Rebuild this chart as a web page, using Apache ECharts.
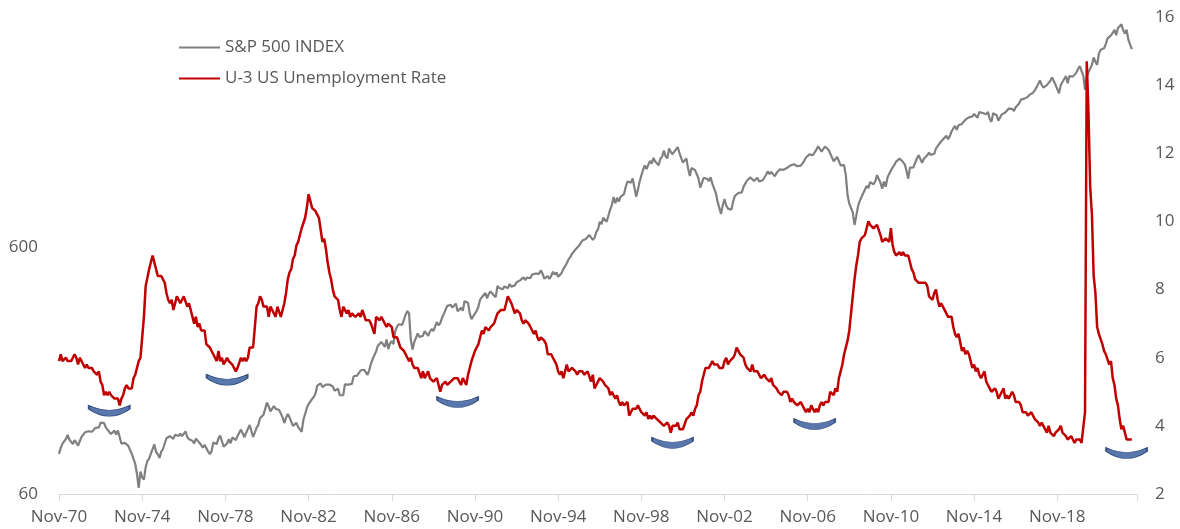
<!DOCTYPE html>
<html>
<head>
<meta charset="utf-8">
<script src="https://cdn.jsdelivr.net/npm/echarts@6/dist/echarts.min.js"></script>
<style>
  html, body { margin: 0; padding: 0; background: #ffffff; }
  #chart { width: 1180px; height: 529px; }
</style>
</head>
<body>
<div id="chart"></div>
<script>
// ---- Data (monthly, Nov-1970 .. Jun-2022) ----
const START_YEAR = 1970;
const START_MONTH = 10; // November (0-based)
const AXIS_MONTHS = 623; // axis runs Nov-70 .. Sep-22
const MONTH_NAMES = ['Jan','Feb','Mar','Apr','May','Jun','Jul','Aug','Sep','Oct','Nov','Dec'];

const unemployment = [
  5.9, 6.1,
  5.9, 5.9, 6.0, 5.9, 5.9, 5.9, 6.0, 6.1, 6.0, 5.8, 6.0, 6.0,
  5.8, 5.7, 5.8, 5.7, 5.7, 5.7, 5.6, 5.6, 5.5, 5.6, 5.3, 5.2,
  4.9, 5.0, 4.9, 5.0, 4.9, 4.9, 4.8, 4.8, 4.8, 4.6, 4.8, 4.9,
  5.1, 5.2, 5.1, 5.1, 5.1, 5.4, 5.5, 5.5, 5.9, 6.0, 6.6, 7.2,
  8.1, 8.1, 8.6, 8.8, 9.0, 8.8, 8.6, 8.4, 8.4, 8.4, 8.3, 8.2,
  7.9, 7.7, 7.6, 7.7, 7.4, 7.6, 7.8, 7.8, 7.6, 7.7, 7.8, 7.8,
  7.5, 7.6, 7.4, 7.2, 7.0, 7.2, 6.9, 7.0, 6.8, 6.8, 6.8, 6.4,
  6.4, 6.3, 6.3, 6.1, 6.0, 5.9, 6.2, 5.9, 6.0, 5.8, 5.9, 6.0,
  5.9, 5.9, 5.8, 5.8, 5.6, 5.7, 5.7, 6.0, 5.9, 6.0, 5.9, 6.0,
  6.3, 6.3, 6.3, 6.9, 7.5, 7.6, 7.8, 7.7, 7.5, 7.5, 7.5, 7.2,
  7.5, 7.4, 7.4, 7.2, 7.5, 7.5, 7.2, 7.4, 7.6, 7.9, 8.3, 8.5,
  8.6, 8.9, 9.0, 9.3, 9.4, 9.6, 9.8, 9.8, 10.1, 10.4, 10.8, 10.8,
  10.4, 10.4, 10.3, 10.2, 10.1, 10.1, 9.4, 9.5, 9.2, 8.8, 8.5, 8.3,
  8.0, 7.8, 7.8, 7.7, 7.4, 7.2, 7.5, 7.5, 7.3, 7.4, 7.2, 7.3,
  7.3, 7.2, 7.2, 7.3, 7.2, 7.4, 7.4, 7.1, 7.1, 7.1, 7.0, 7.0,
  6.7, 7.2, 7.2, 7.1, 7.2, 7.2, 7.0, 6.9, 7.0, 7.0, 6.9, 6.6,
  6.6, 6.6, 6.6, 6.3, 6.3, 6.2, 6.1, 6.0, 5.9, 6.0, 5.8, 5.7,
  5.7, 5.7, 5.7, 5.4, 5.6, 5.4, 5.4, 5.6, 5.4, 5.4, 5.3, 5.3,
  5.4, 5.2, 5.0, 5.2, 5.2, 5.3, 5.2, 5.2, 5.3, 5.3, 5.4, 5.4,
  5.4, 5.3, 5.2, 5.4, 5.4, 5.2, 5.5, 5.7, 5.9, 5.9, 6.2, 6.3,
  6.4, 6.6, 6.8, 6.7, 6.9, 6.9, 6.8, 6.9, 6.9, 7.0, 7.0, 7.3,
  7.3, 7.4, 7.4, 7.4, 7.6, 7.8, 7.7, 7.6, 7.6, 7.3, 7.4, 7.4,
  7.3, 7.1, 7.0, 7.1, 7.1, 7.0, 6.9, 6.8, 6.7, 6.8, 6.6, 6.5,
  6.6, 6.6, 6.5, 6.4, 6.1, 6.1, 6.1, 6.0, 5.9, 5.8, 5.6, 5.5,
  5.6, 5.4, 5.4, 5.8, 5.6, 5.6, 5.7, 5.7, 5.6, 5.5, 5.6, 5.6,
  5.6, 5.5, 5.5, 5.6, 5.6, 5.3, 5.5, 5.1, 5.2, 5.2, 5.4, 5.4,
  5.3, 5.2, 5.2, 5.1, 4.9, 5.0, 4.9, 4.8, 4.9, 4.7, 4.6, 4.7,
  4.6, 4.6, 4.7, 4.3, 4.4, 4.5, 4.5, 4.5, 4.6, 4.5, 4.4, 4.4,
  4.3, 4.4, 4.2, 4.3, 4.2, 4.3, 4.3, 4.2, 4.2, 4.1, 4.1, 4.0,
  4.0, 4.1, 4.0, 3.8, 4.0, 4.0, 4.0, 4.1, 3.9, 3.9, 3.9, 3.9,
  4.2, 4.2, 4.3, 4.4, 4.3, 4.5, 4.6, 4.9, 5.0, 5.3, 5.5, 5.7,
  5.7, 5.7, 5.7, 5.9, 5.8, 5.8, 5.8, 5.7, 5.7, 5.7, 5.9, 6.0,
  5.8, 5.9, 5.9, 6.0, 6.1, 6.3, 6.2, 6.1, 6.1, 6.0, 5.8, 5.7,
  5.7, 5.6, 5.8, 5.6, 5.6, 5.6, 5.5, 5.4, 5.4, 5.5, 5.4, 5.4,
  5.3, 5.4, 5.2, 5.2, 5.1, 5.0, 5.0, 4.9, 5.0, 5.0, 5.0, 4.9,
  4.7, 4.8, 4.7, 4.7, 4.6, 4.6, 4.7, 4.7, 4.5, 4.4, 4.5, 4.4,
  4.6, 4.5, 4.4, 4.5, 4.4, 4.6, 4.7, 4.6, 4.7, 4.7, 4.7, 5.0,
  5.0, 4.9, 5.1, 5.0, 5.4, 5.6, 5.8, 6.1, 6.1, 6.5, 6.8, 7.3,
  7.8, 8.3, 8.7, 9.0, 9.4, 9.5, 9.5, 9.6, 9.8, 10.0, 9.9, 9.9,
  9.8, 9.8, 9.9, 9.9, 9.6, 9.4, 9.4, 9.5, 9.5, 9.4, 9.8, 9.3,
  9.1, 9.0, 9.0, 9.1, 9.0, 9.1, 9.0, 9.0, 9.0, 8.8, 8.6, 8.5,
  8.3, 8.3, 8.2, 8.2, 8.2, 8.2, 8.2, 8.1, 7.8, 7.8, 7.7, 7.9,
  8.0, 7.7, 7.5, 7.6, 7.5, 7.5, 7.3, 7.2, 7.2, 7.2, 6.9, 6.7,
  6.6, 6.7, 6.7, 6.2, 6.3, 6.1, 6.2, 6.1, 5.9, 5.7, 5.8, 5.6,
  5.7, 5.5, 5.4, 5.4, 5.6, 5.3, 5.2, 5.1, 5.0, 5.0, 5.1, 5.0,
  4.8, 4.9, 5.0, 5.1, 4.8, 4.9, 4.8, 4.9, 5.0, 4.9, 4.7, 4.7,
  4.7, 4.6, 4.4, 4.4, 4.4, 4.3, 4.3, 4.4, 4.3, 4.2, 4.2, 4.1,
  4.0, 4.1, 4.0, 4.0, 3.8, 4.0, 3.8, 3.8, 3.7, 3.8, 3.8, 3.9,
  4.0, 3.8, 3.8, 3.7, 3.6, 3.6, 3.7, 3.6, 3.5, 3.6, 3.6, 3.6,
  3.5, 3.5, 4.4, 14.7, 13.2, 11.0, 10.2, 8.4, 7.9, 6.9, 6.7, 6.7,
  6.4, 6.2, 6.1, 6.1, 5.8, 5.9, 5.4, 5.2, 4.8, 4.6, 4.2, 3.9,
  4.0, 3.8, 3.6, 3.6, 3.6, 3.6
];

const sp500 = [
  87.2, 92.15,
  95.88, 96.75, 100.31, 103.95, 99.63, 98.70, 95.58, 99.03, 98.34, 94.23, 93.99, 102.09,
  103.94, 106.57, 107.20, 107.67, 109.53, 107.14, 107.39, 111.09, 110.55, 111.58, 116.67, 118.05,
  116.03, 111.68, 111.52, 106.97, 104.95, 104.26, 108.22, 104.25, 108.43, 108.29, 95.96, 97.55,
  96.57, 96.22, 93.98, 90.31, 87.28, 86.00, 79.31, 72.15, 63.54, 73.90, 69.97, 68.56,
  76.98, 81.59, 83.36, 87.30, 91.15, 95.19, 88.75, 86.88, 83.87, 89.04, 91.24, 90.19,
  100.86, 99.71, 102.77, 101.64, 100.18, 104.28, 103.44, 102.91, 105.24, 102.90, 102.10, 107.46,
  102.03, 99.82, 98.42, 98.44, 96.12, 100.48, 98.85, 96.77, 96.53, 92.34, 94.83, 95.10,
  89.25, 87.04, 89.21, 96.83, 97.24, 95.53, 100.68, 103.29, 102.54, 93.15, 94.70, 96.11,
  99.93, 96.28, 101.59, 101.76, 99.08, 102.91, 103.81, 109.32, 109.32, 101.82, 106.16, 107.94,
  114.16, 113.66, 102.09, 106.29, 111.24, 114.24, 121.67, 122.38, 125.46, 127.47, 140.52, 135.76,
  129.55, 131.27, 136.00, 132.81, 132.59, 131.21, 130.92, 122.79, 116.18, 121.89, 126.35, 122.55,
  120.40, 113.11, 111.96, 116.44, 111.88, 109.61, 107.09, 119.51, 120.42, 133.71, 138.54, 140.64,
  145.30, 148.06, 152.96, 164.42, 162.39, 168.11, 162.56, 164.40, 166.07, 163.55, 166.40, 164.93,
  163.41, 157.06, 159.18, 160.05, 150.55, 153.18, 150.66, 166.68, 166.10, 166.09, 163.58, 167.24,
  179.63, 181.18, 180.66, 179.83, 189.55, 191.85, 190.92, 188.63, 182.08, 189.82, 202.17, 211.28,
  211.78, 226.92, 238.90, 235.52, 247.35, 250.84, 236.12, 252.93, 231.32, 243.98, 249.22, 242.17,
  274.08, 284.20, 291.70, 288.36, 290.10, 304.00, 318.66, 329.80, 321.83, 251.79, 230.30, 247.08,
  257.07, 267.82, 258.89, 261.33, 262.16, 273.50, 272.02, 261.52, 271.91, 278.97, 273.70, 277.72,
  297.47, 288.86, 294.87, 309.64, 320.52, 317.98, 346.08, 351.45, 349.15, 340.36, 345.99, 353.40,
  329.08, 331.89, 339.94, 330.80, 361.23, 358.02, 356.15, 322.56, 306.05, 304.00, 322.22, 330.22,
  343.93, 367.07, 375.22, 375.35, 389.83, 371.16, 387.81, 395.43, 387.86, 392.46, 375.22, 417.09,
  408.79, 412.70, 403.69, 414.95, 415.35, 408.14, 424.21, 414.03, 417.80, 418.68, 431.35, 435.71,
  438.78, 443.38, 451.67, 440.19, 450.19, 450.53, 448.13, 463.56, 458.93, 467.83, 461.79, 466.45,
  481.61, 467.14, 445.77, 450.91, 456.50, 444.27, 458.26, 475.49, 462.69, 472.35, 453.69, 459.27,
  470.42, 487.39, 500.71, 514.71, 533.40, 544.75, 562.06, 561.88, 584.41, 581.50, 605.37, 615.93,
  636.02, 640.43, 645.50, 654.17, 669.12, 670.63, 639.95, 651.99, 687.31, 705.27, 757.02, 740.74,
  786.16, 790.82, 757.12, 801.34, 848.28, 885.14, 954.29, 899.47, 947.28, 914.62, 955.40, 970.43,
  980.28, 1049.34, 1101.75, 1111.75, 1090.82, 1133.84, 1120.67, 957.28, 1017.01, 1098.67, 1163.63, 1229.23,
  1279.64, 1238.33, 1286.37, 1335.18, 1301.84, 1372.71, 1328.72, 1320.41, 1282.71, 1362.93, 1388.91, 1469.25,
  1394.46, 1366.42, 1498.58, 1452.43, 1420.60, 1454.60, 1430.83, 1517.68, 1436.51, 1429.40, 1314.95, 1320.28,
  1366.01, 1239.94, 1160.33, 1249.46, 1255.82, 1224.42, 1211.23, 1133.58, 1040.94, 1059.78, 1139.45, 1148.08,
  1130.20, 1106.73, 1147.39, 1076.92, 1067.14, 989.82, 911.62, 916.07, 815.28, 885.76, 936.31, 879.82,
  855.70, 841.15, 848.18, 916.92, 963.59, 974.50, 990.31, 1008.01, 995.97, 1050.71, 1058.20, 1111.92,
  1131.13, 1144.94, 1126.21, 1107.30, 1120.68, 1140.84, 1101.72, 1104.24, 1114.58, 1130.20, 1173.82, 1211.92,
  1181.27, 1203.60, 1180.59, 1156.85, 1191.50, 1191.33, 1234.18, 1220.33, 1228.81, 1207.01, 1249.48, 1248.29,
  1280.08, 1280.66, 1294.83, 1310.61, 1270.09, 1270.20, 1276.66, 1303.82, 1335.85, 1377.94, 1400.63, 1418.30,
  1438.24, 1406.82, 1420.86, 1482.37, 1530.62, 1503.35, 1455.27, 1473.99, 1526.75, 1549.38, 1481.14, 1468.36,
  1378.55, 1330.63, 1322.70, 1385.59, 1400.38, 1280.00, 1267.38, 1282.83, 1166.36, 968.75, 896.24, 903.25,
  825.88, 735.09, 797.87, 872.81, 919.14, 919.32, 987.48, 1020.62, 1057.08, 1036.19, 1095.63, 1115.10,
  1073.87, 1104.49, 1169.43, 1186.69, 1089.41, 1030.71, 1101.60, 1049.33, 1141.20, 1183.26, 1180.55, 1257.64,
  1286.12, 1327.22, 1325.83, 1363.61, 1345.20, 1320.64, 1292.28, 1218.89, 1131.42, 1253.30, 1246.96, 1257.60,
  1312.41, 1365.68, 1408.47, 1397.91, 1310.33, 1362.16, 1379.32, 1406.58, 1440.67, 1412.16, 1416.18, 1426.19,
  1498.11, 1514.68, 1569.19, 1597.57, 1630.74, 1606.28, 1685.73, 1632.97, 1681.55, 1756.54, 1805.81, 1848.36,
  1782.59, 1859.45, 1872.34, 1883.95, 1923.57, 1960.23, 1930.67, 2003.37, 1972.29, 2018.05, 2067.56, 2058.90,
  1994.99, 2104.50, 2067.89, 2085.51, 2107.39, 2063.11, 2103.84, 1972.18, 1920.03, 2079.36, 2080.41, 2043.94,
  1940.24, 1932.23, 2059.74, 2065.30, 2096.95, 2098.86, 2173.60, 2170.95, 2168.27, 2126.15, 2198.81, 2238.83,
  2278.87, 2363.64, 2362.72, 2384.20, 2411.80, 2423.41, 2470.30, 2471.65, 2519.36, 2575.26, 2647.58, 2673.61,
  2823.81, 2713.83, 2640.87, 2648.05, 2705.27, 2718.37, 2816.29, 2901.52, 2913.98, 2711.74, 2760.17, 2506.85,
  2704.10, 2784.49, 2834.40, 2945.83, 2752.06, 2941.76, 2980.38, 2926.46, 2976.74, 3037.56, 3140.98, 3230.78,
  3225.52, 2954.22, 2584.59, 2912.43, 3044.31, 3100.29, 3271.12, 3500.31, 3363.00, 3269.96, 3621.63, 3756.07,
  3714.24, 3811.15, 3972.89, 4181.17, 4204.11, 4297.50, 4395.26, 4522.68, 4307.54, 4605.38, 4567.00, 4766.18,
  4515.55, 4373.94, 4530.41, 4131.93, 4132.15, 3785.38
];

// Blue "trough" markers (month label, unemployment-axis value)
const troughs = [
  ['Apr-73', 4.44],
  ['Dec-78', 5.35],
  ['Jan-90', 4.70],
  ['May-00', 3.50],
  ['Mar-07', 4.05],
  ['Mar-22', 3.20]
];

const leftTicks = [60, 600];          // labels on the left (log) axis
const SP_BASE = 60;                    // left axis starts at 60
const LEFT_MAX = 5100;

// ---- Build categories ----
const categories = [];
for (let i = 0; i < AXIS_MONTHS; i++) {
  const m = (START_MONTH + i) % 12;
  const y = START_YEAR + Math.floor((START_MONTH + i) / 12);
  categories.push(MONTH_NAMES[m] + '-' + String(y % 100).padStart(2, '0'));
}

const FONT = 'Open Sans';
const TXT = '#595959';

const chart = echarts.init(document.getElementById('chart'));
chart.setOption({
  animation: false,
  backgroundColor: '#ffffff',
  textStyle: { fontFamily: FONT },
  grid: { left: 59, right: 43, top: 17, bottom: 35, containLabel: false },
  legend: {
    data: ['S&P 500 INDEX', 'U-3 US Unemployment Rate'],
    orient: 'vertical',
    left: 173,
    top: 34,
    itemWidth: 41,
    itemHeight: 14,
    itemGap: 14,
    itemStyle: { opacity: 0 },
    textStyle: { fontFamily: FONT, fontSize: 17, color: TXT }
  },
  xAxis: {
    type: 'category',
    data: categories,
    boundaryGap: false,
    axisLine: { show: true, lineStyle: { color: '#D9D9D9', width: 1 } },
    axisTick: {
      show: true,
      length: 7,
      interval: (i) => i % 48 === 0 || i === AXIS_MONTHS - 1,
      lineStyle: { color: '#D9D9D9' }
    },
    axisLabel: {
      interval: (i) => i % 48 === 0,
      color: TXT,
      fontFamily: FONT,
      fontSize: 17,
      margin: 15
    },
    splitLine: { show: false }
  },
  yAxis: [
    {
      type: 'log',
      logBase: 10,
      min: 1,
      max: LEFT_MAX / SP_BASE,
      position: 'left',
      axisLine: { show: false },
      axisTick: { show: false },
      splitLine: { show: false },
      axisLabel: {
        color: TXT,
        fontFamily: FONT,
        fontSize: 17,
        margin: 21,
        showMaxLabel: false,
        formatter: (v) => {
          const real = Math.round(v * SP_BASE);
          return leftTicks.some(t => Math.abs(t - real) < 0.5) ? String(real) : '';
        }
      }
    },
    {
      type: 'value',
      min: 2,
      max: 16,
      interval: 2,
      position: 'right',
      axisLine: { show: false },
      axisTick: { show: false },
      splitLine: { show: false },
      axisLabel: { color: TXT, fontFamily: FONT, fontSize: 17, margin: 18 }
    }
  ],
  series: [
    {
      name: 'S&P 500 INDEX',
      type: 'line',
      yAxisIndex: 0,
      data: sp500.map(v => v / SP_BASE),
      symbol: 'none',
      color: '#808080',
      lineStyle: { color: '#808080', width: 2.2 },
      z: 2
    },
    {
      name: 'U-3 US Unemployment Rate',
      type: 'line',
      yAxisIndex: 1,
      data: unemployment,
      symbol: 'none',
      color: '#C00000',
      lineStyle: { color: '#C00000', width: 2.5 },
      z: 3
    },
    {
      name: 'troughs',
      type: 'scatter',
      yAxisIndex: 1,
      data: troughs,
      symbol: 'path://M0,0 Q20.5,10 41,0 L41,4 Q20.5,19 0,4 Z',
      symbolSize: [41, 11],
      itemStyle: { color: '#2F5597', borderColor: '#1F3C6E', borderWidth: 1 },
      silent: true,
      z: 4
    }
  ]
});
</script>
</body>
</html>
